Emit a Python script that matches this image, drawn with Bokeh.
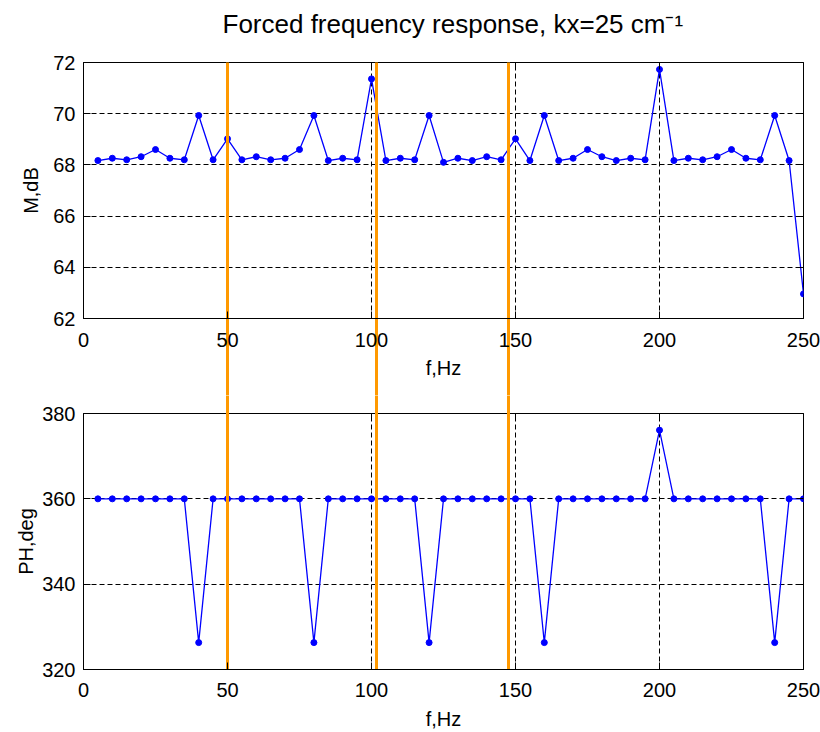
from bokeh.plotting import figure
from bokeh.models import Range1d, FixedTicker, LinearAxis
from bokeh.layouts import column
from bokeh.embed import file_html
from bokeh.resources import INLINE

# ---------------- data ----------------
freq = [5, 10, 15, 20, 25, 30, 35, 40, 45, 50,
        55, 60, 65, 70, 75, 80, 85, 90, 95, 100,
        105, 110, 115, 120, 125, 130, 135, 140, 145, 150,
        155, 160, 165, 170, 175, 180, 185, 190, 195, 200,
        205, 210, 215, 220, 225, 230, 235, 240, 245, 250]

magnitude_db = [68.17, 68.26, 68.20, 68.32, 68.60, 68.26, 68.20, 69.93, 68.20, 69.02,
                68.20, 68.32, 68.20, 68.26, 68.60, 69.93, 68.17, 68.26, 68.20, 71.36,
                68.17, 68.26, 68.20, 69.93, 68.10, 68.26, 68.17, 68.32, 68.20, 69.02,
                68.17, 69.93, 68.17, 68.26, 68.60, 68.32, 68.17, 68.26, 68.20, 71.73,
                68.17, 68.26, 68.20, 68.32, 68.60, 68.26, 68.20, 69.93, 68.17, 62.96]

phase_deg = [360, 360, 360, 360, 360, 360, 360, 326.3, 360, 360,
             360, 360, 360, 360, 360, 326.3, 360, 360, 360, 360,
             360, 360, 360, 326.3, 360, 360, 360, 360, 360, 360,
             360, 326.3, 360, 360, 360, 360, 360, 360, 360, 376.1,
             360, 360, 360, 360, 360, 360, 360, 326.3, 360, 360]

marker_freqs = [50, 101.7, 147.7]          # orange vertical markers (Hz)
x_ticks = [0, 50, 100, 150, 200, 250]
m_ticks = [62, 64, 66, 68, 70, 72]
ph_ticks = [320, 340, 360, 380]
x_label = "f,Hz"
m_label = "M,dB"
ph_label = "PH,deg"
title_text = "Forced frequency response, kx=25 cm\u207b\u00b9"

FONT = "Liberation Sans"
W = 820
TOP_H = 395
BOT_H = 337
ORANGE = "#ff9900"


def tick_only_axis(ticks, color, width, tick_in, tick_out):
    """Axis that draws only (label-free) tick marks, via minor ticks."""
    return LinearAxis(ticker=FixedTicker(ticks=[], minor_ticks=ticks),
                      major_tick_in=0, major_tick_out=0,
                      major_tick_line_color=None,
                      minor_tick_in=tick_in, minor_tick_out=tick_out,
                      minor_tick_line_color=color,
                      minor_tick_line_width=width,
                      major_label_standoff=0,
                      axis_line_color=None)


def make_fig(height, yr, yticks, ylabel, b_top, b_bottom, ylab_standoff,
             xlab_standoff, xlabel_standoff):
    p = figure(width=W, height=height,
               x_range=Range1d(0, 250), y_range=Range1d(*yr),
               output_backend="svg", toolbar_location=None,
               x_axis_label=x_label, y_axis_label=ylabel,
               min_border_left=83, min_border_right=17,
               min_border_top=b_top, min_border_bottom=b_bottom)
    p.outline_line_color = "black"
    p.outline_line_alpha = 1
    p.outline_line_width = 1
    p.background_fill_color = "white"
    p.border_fill_color = "white"
    for ax, ticks in ((p.xaxis[0], x_ticks), (p.yaxis[0], yticks)):
        ax.ticker = FixedTicker(ticks=ticks)
        ax.major_tick_in = 7
        ax.major_tick_out = 0
        ax.minor_tick_line_color = None
        ax.axis_line_color = "black"
        ax.major_tick_line_color = "black"
        ax.major_label_text_font = FONT
        ax.major_label_text_font_size = "20px"
        ax.major_label_text_color = "black"
        ax.major_label_standoff = 8
        ax.axis_label_text_font = FONT
        ax.axis_label_text_font_size = "20px"
        ax.axis_label_text_font_style = "normal"
        ax.axis_label_text_color = "black"
    p.xaxis[0].major_label_standoff = xlab_standoff
    p.xaxis[0].axis_label_standoff = xlabel_standoff
    p.yaxis[0].axis_label_standoff = ylab_standoff
    p.grid.grid_line_color = "black"
    p.grid.grid_line_dash = "5 3"
    p.grid.grid_line_width = 1
    # inner tick marks on the right and top edges
    p.add_layout(tick_only_axis(yticks, "black", 1, 7, 0), "right")
    p.add_layout(tick_only_axis(x_ticks, "black", 1, 7, 0), "above")
    return p


top = make_fig(TOP_H, (62, 72), m_ticks, m_label, 62, TOP_H - 318, 8, 14, 7)
bot = make_fig(BOT_H, (320, 380), ph_ticks, ph_label, 18, 63, 2, 13, 8)

top.line(freq, magnitude_db, line_color="blue", line_width=1.3)
top.scatter(freq, magnitude_db, size=6, color="blue")
bot.line(freq, phase_deg, line_color="blue", line_width=1.3)
bot.scatter(freq, phase_deg, size=6, color="blue")

# orange vertical markers, running through both panels and the gap between
top.add_layout(tick_only_axis(marker_freqs, ORANGE, 3, TOP_H, 0), "above")
bot.add_layout(tick_only_axis(marker_freqs, ORANGE, 3, 256, 18), "above")

# invisible spacer between the frame and the title
top.add_layout(tick_only_axis(x_ticks, None, 1, 0, 24), "above")

top.title.text = title_text
top.title.text_font = FONT
top.title.text_font_size = "26px"
top.title.text_font_style = "normal"
top.title.text_color = "black"
top.title.align = "left"
top.title.offset = 139
top.title.standoff = 0

layout = column(top, bot)
open("out.html", "w").write(file_html(layout, INLINE))
